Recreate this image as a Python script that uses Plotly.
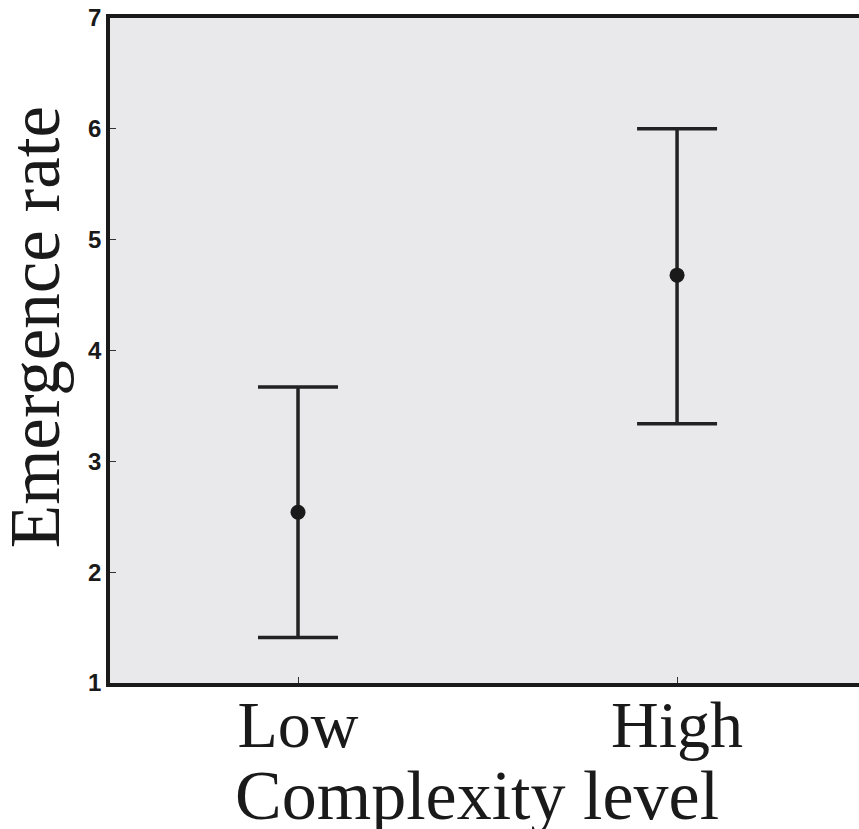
import plotly.graph_objects as go

categories = ["Low", "High"]
means = [2.54, 4.68]
upper = [3.67, 6.00]
lower = [1.41, 3.34]
y_ticks = [1, 2, 3, 4, 5, 6, 7]

err_plus = [u - m for u, m in zip(upper, means)]
err_minus = [m - l for m, l in zip(means, lower)]

fig = go.Figure()
fig.add_trace(go.Scatter(
    x=[0, 1], y=means, mode="markers",
    marker=dict(size=15, color="#1a1a1a"),
    error_y=dict(type="data", symmetric=False, array=err_plus, arrayminus=err_minus,
                 color="#222222", thickness=3.5, width=40),
    showlegend=False,
))

fig.add_annotation(
    text="Emergence rate", xref="paper", yref="paper", x=0, y=0.535,
    xanchor="center", yanchor="middle", xshift=-75, textangle=-90, showarrow=False,
    font=dict(family="Liberation Serif", size=71, color="#1a1a1a"),
)
fig.add_annotation(
    text="Complexity level", xref="paper", yref="paper", x=0.49, y=-0.169,
    xanchor="center", yanchor="middle", showarrow=False,
    font=dict(family="Liberation Serif", size=70, color="#1a1a1a"),
)

fig.update_layout(
    width=859, height=829,
    margin=dict(l=110, r=0, t=18, b=146),
    paper_bgcolor="white",
    plot_bgcolor="#e9e9ec",
    xaxis=dict(
        range=[-0.496, 1.48], tickmode="array", tickvals=[0, 1], ticktext=categories,
        showgrid=False, zeroline=False, showline=True, linecolor="#1a1a1a", linewidth=3.5,
        mirror=True, ticks="inside", ticklen=6, tickwidth=1, tickcolor="#333",
        automargin=False, ticklabelstandoff=-19, ticklabeloverflow="allow",
        tickfont=dict(family="Liberation Serif", size=66, color="#1a1a1a"),
    ),
    yaxis=dict(
        range=[1, 7], tickmode="array", tickvals=y_ticks, ticktext=[str(v) for v in y_ticks],
        showgrid=False, zeroline=False, showline=True, linecolor="#1a1a1a", linewidth=3.5,
        ticks="inside", ticklen=6, tickwidth=1, tickcolor="#333",
        automargin=False, ticklabelstandoff=0, ticklabeloverflow="allow",
        tickfont=dict(family="Liberation Sans", size=24, color="#1a1a1a", weight="bold"),
    ),
)

fig.write_html("out.html", config={"displayModeBar": False},
               post_script="document.body.style.margin='0';")
